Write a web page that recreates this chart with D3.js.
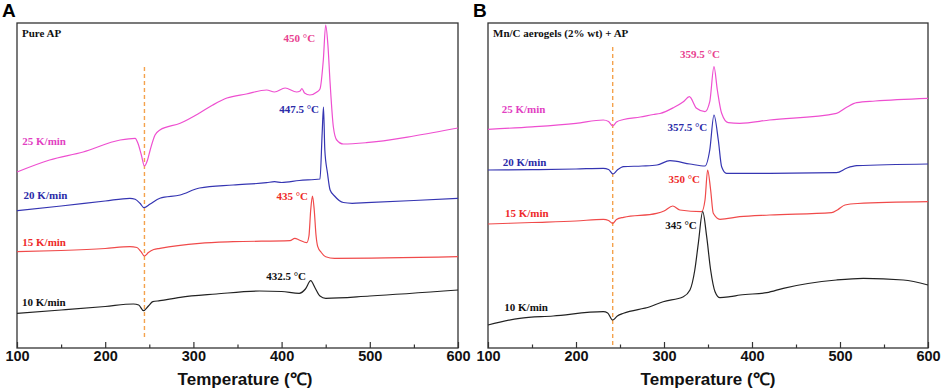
<!DOCTYPE html>
<html>
<head>
<meta charset="utf-8">
<script src="https://cdn.jsdelivr.net/npm/d3@7"></script>
<style>
  body { margin: 0; background: #fff; }
  svg { display: block; }
</style>
</head>
<body>
<div id="chart"></div>
<script>
// temperature axis
const tempTicks = [100, 200, 300, 400, 500, 600];
const tempMinorTicks = [150, 250, 350, 450, 550];
const rates = ['25 K/min', '20 K/min', '15 K/min', '10 K/min'];
const rateColors = ['#ee4fd0', '#3535b2', '#f04a4a', '#222222'];

// panel A: pure AP, heat flow in arbitrary units  [temperature, value]
const pureAP25 = [[100, 176], [137, 188], [175, 196], [217, 208], [234, 209.7], [237, 205], [241, 193], [244.5, 182], [248, 188],
  [251, 198], [256.5, 213], [262, 218], [285, 224.7], [307, 235], [322, 243], [338, 250], [360, 254], [383, 258], [392, 256],
  [404, 260], [417, 256], [421, 257], [423, 259.5], [426, 255], [432, 253], [440, 256], [443.5, 259], [447.3, 288], [450, 323],
  [452.5, 303], [455, 265], [458.7, 221], [462.5, 208], [470, 204], [496, 205.3], [550, 212], [600, 220]];
const pureAP20 = [[100, 137.3], [150, 142], [200, 147], [228, 149.7], [234, 148.7], [239.5, 144.7], [244, 140.3], [251, 144],
  [262, 149.7], [285, 153], [307, 160], [345, 163], [383, 165.3], [392, 166.3], [400, 165.5], [420, 167.5], [443.5, 169],
  [446, 215], [447.5, 241], [449, 198], [452, 175], [455, 158], [460, 152], [470, 145.5], [480, 144.7], [496, 145.3],
  [550, 147.5], [600, 149.7]];
const pureAP15 = [[100, 96.3], [150, 97.5], [200, 99.5], [228, 101.3], [236, 100.5], [240.6, 96.3], [244.5, 92], [249, 95.5],
  [255, 98.5], [262, 99.7], [307, 104.7], [345, 106.3], [409.5, 107.3], [415, 109.7], [420, 108], [428.5, 105.3], [431, 112],
  [433, 138], [435, 152], [437, 138], [439, 113], [441, 101.3], [445, 95.5], [450, 91.3], [460, 89.7], [600, 91.3]];
const pureAP10 = [[100, 34.7], [150, 38], [200, 41.5], [232, 44], [238, 43], [243.5, 37.3], [249, 42], [254, 46.3],
  [262, 47.3], [285, 50.7], [326, 54], [375, 57], [400, 56.5], [420, 54.7], [427, 59], [433, 67.3], [438, 60], [443.5, 52],
  [450, 49.7], [500, 52], [600, 58]];

// panel B: Mn/C aerogels (2% wt) + AP
const mnC25 = [[100, 218.7], [150, 221.2], [200, 224.7], [231, 228], [237, 226.5], [241.7, 222], [246, 226], [254, 228.5],
  [273, 231], [288, 233.5], [295.5, 234.5], [310.6, 240.3], [322, 246.3], [328.8, 251.3], [337, 239.7], [346.6, 236.3],
  [352, 246.3], [356.8, 281.3], [360.6, 258], [365.5, 234.7], [373, 225.3], [386, 224.7], [420, 228], [496, 234.7],
  [507.6, 240.7], [519, 245.3], [540, 247], [600, 249.7]];
const mnC20 = [[100, 178], [150, 178.3], [200, 179], [231, 179.7], [237, 178.5], [242, 174], [247, 178], [254, 181.3],
  [275, 182], [292, 183], [306.8, 187.3], [329.5, 184], [346.6, 182], [352, 198], [356.8, 233], [361.7, 208], [365.5, 181.3],
  [371, 174.7], [420, 174.7], [496, 175.3], [508, 180], [519, 182.3], [600, 184]];
const mnC15 = [[100, 124], [150, 125.5], [200, 127], [231, 128.7], [237, 127.5], [241.7, 124.7], [246, 128.5], [254, 130.7],
  [291.6, 134.7], [300, 137], [309.9, 142], [318, 138], [342.8, 136.3], [346.6, 148], [349.6, 178], [353, 158], [356, 134.7],
  [363.6, 128.7], [386, 131.3], [420, 133], [490.5, 135.3], [497, 138], [505.7, 143], [520, 144.5], [600, 146.3]];
const mnC10 = [[100, 23], [136, 29.7], [174, 32], [231, 36.3], [236, 35], [241.7, 28], [247, 32], [254, 34.7], [284, 41.3],
  [299, 46.3], [322, 51.3], [329.5, 58], [335, 78], [339, 104.7], [344, 136.3], [348.5, 111.3], [353, 78], [358, 56.3],
  [363.6, 50.3], [375, 51.3], [386.4, 53], [416.7, 55.3], [435.6, 59.7], [496, 68], [526.5, 69.7], [572, 68], [600, 63]];

// labels: peak temperature text, [temperature, value] of right end / baseline
const peakLabelsA = ['450 °C', '447.5 °C', '435 °C', '432.5 °C'];
const peakPosA = [[438, 306], [442.4, 235], [430, 148], [427.7, 68.3]];
const ratePosA = [[106, 203], [107.5, 149], [106, 102.3], [105.7, 42]];
const peakLabelsB = ['359.5 °C', '357.5 °C', '350 °C', '345 °C'];
const peakPosB = [[363.6, 289.7], [349.2, 217.3], [340.9, 165], [337.2, 119]];
const ratePosB = [[115.6, 235], [116.7, 182.3], [119.3, 131], [118.5, 37]];
const peakColors = ['#e8418f', '#2b2ba8', '#ee2a2a', '#111111'];
const rateLabelColors = ['#e23fc2', '#2b2ba8', '#ee2a2a', '#111111'];

const width = 941, height = 392;
const svg = d3.select('#chart').append('svg').attr('width', width).attr('height', height);

function drawPanel(opts) {
  const top = 23, bottom = 348;
  const x = d3.scaleLinear().domain([100, 600]).range([opts.left, opts.right]);
  const y = d3.scaleLinear().domain([0, 325]).range([bottom, top]);
  const g = svg.append('g');

  // frame
  g.append('rect')
    .attr('x', opts.left).attr('y', top)
    .attr('width', opts.right - opts.left).attr('height', bottom - top)
    .attr('fill', 'none').attr('stroke', '#333').attr('stroke-width', 1.3);

  // axis, ticks pointing inward
  const axis = g.append('g').attr('transform', `translate(0,${bottom})`)
    .call(d3.axisBottom(x).tickValues(tempTicks).tickSize(-6).tickPadding(3));
  axis.select('.domain').remove();
  axis.selectAll('line').attr('stroke', '#333').attr('stroke-width', 1.2);
  axis.selectAll('text')
    .attr('font-family', 'Liberation Sans, Arial, sans-serif')
    .attr('font-weight', 'bold').attr('font-size', '14.5px').attr('fill', '#111');

  const minor = g.append('g').attr('transform', `translate(0,${bottom})`)
    .call(d3.axisBottom(x).tickValues(tempMinorTicks).tickSize(-3.5).tickFormat(''));
  minor.select('.domain').remove();
  minor.selectAll('line').attr('stroke', '#333').attr('stroke-width', 1.2);

  g.append('text')
    .attr('x', opts.titleX).attr('y', 385)
    .attr('text-anchor', 'middle')
    .attr('font-family', 'Liberation Sans, Arial, sans-serif')
    .attr('font-weight', 'bold').attr('font-size', '17px').attr('fill', '#111')
    .text('Temperature (℃)');

  // dashed guide at the endothermic phase transition
  g.append('line')
    .attr('x1', x(opts.guideT)).attr('x2', x(opts.guideT))
    .attr('y1', opts.guideTop).attr('y2', opts.guideBottom)
    .attr('stroke', '#f4a24c').attr('stroke-width', 1.4).attr('stroke-dasharray', '4,3');

  const line = d3.line().x(d => x(d[0])).y(d => y(d[1])).curve(d3.curveMonotoneX);
  opts.series.forEach((s, i) => {
    g.append('path').datum(s)
      .attr('d', line)
      .attr('fill', 'none')
      .attr('stroke', rateColors[i])
      .attr('stroke-width', 1.2);
  });

  const serif = 'Liberation Serif, Times New Roman, serif';
  opts.peakLabels.forEach((t, i) => {
    g.append('text')
      .attr('x', x(opts.peakPos[i][0])).attr('y', y(opts.peakPos[i][1]))
      .attr('text-anchor', 'end')
      .attr('font-family', serif).attr('font-weight', 'bold').attr('font-size', '11px')
      .attr('fill', peakColors[i])
      .text(t);
  });
  rates.forEach((t, i) => {
    g.append('text')
      .attr('x', x(opts.ratePos[i][0])).attr('y', y(opts.ratePos[i][1]))
      .attr('font-family', serif).attr('font-weight', 'bold').attr('font-size', '11px')
      .attr('fill', rateLabelColors[i])
      .text(t);
  });

  g.append('text')
    .attr('x', opts.left + 5).attr('y', 37)
    .attr('font-family', serif).attr('font-weight', 'bold').attr('font-size', '11px').attr('fill', '#111')
    .text(opts.title);

  g.append('text')
    .attr('x', opts.left - 15).attr('y', 17)
    .attr('font-family', 'Liberation Sans, Arial, sans-serif')
    .attr('font-weight', 'bold').attr('font-size', '19px').attr('fill', '#000')
    .text(opts.letter);
}

drawPanel({
  letter: 'A', title: 'Pure AP', left: 17, right: 458, titleX: 245,
  guideT: 244.5, guideTop: 67, guideBottom: 337,
  series: [pureAP25, pureAP20, pureAP15, pureAP10],
  peakLabels: peakLabelsA, peakPos: peakPosA, ratePos: ratePosA
});

drawPanel({
  letter: 'B', title: 'Mn/C aerogels (2% wt) + AP', left: 488, right: 928, titleX: 708,
  guideT: 241.7, guideTop: 47, guideBottom: 347,
  series: [mnC25, mnC20, mnC15, mnC10],
  peakLabels: peakLabelsB, peakPos: peakPosB, ratePos: ratePosB
});
</script>
</body>
</html>
